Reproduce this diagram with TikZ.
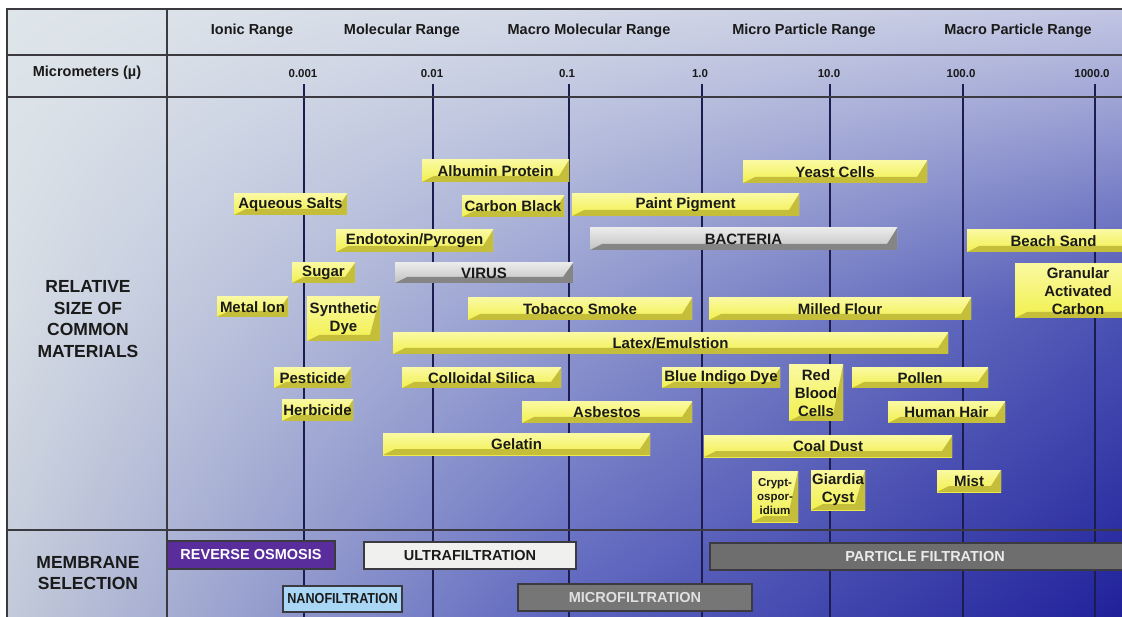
\documentclass[tikz,border=0pt]{standalone}
\usepackage{fontspec}
\setmainfont{Liberation Sans}
\usetikzlibrary{calc,shadings}
\definecolor{c00}{HTML}{DFE6EA}
\definecolor{cm0}{HTML}{D3D9E6}
\definecolor{c10}{HTML}{C2C6E3}
\definecolor{c0m}{HTML}{D6DDE4}
\definecolor{cmm}{HTML}{939BD0}
\definecolor{c1m}{HTML}{4A52B4}
\definecolor{c01}{HTML}{C3CAD9}
\definecolor{cm1}{HTML}{5D66BF}
\definecolor{c11}{HTML}{20219A}
\definecolor{ytop}{HTML}{FAF9A0}
\definecolor{yface}{HTML}{F2F04E}
\definecolor{ydark}{HTML}{C4BE3A}
\definecolor{gtop}{HTML}{EAEAEA}
\definecolor{gface}{HTML}{C2C2C2}
\definecolor{gdark}{HTML}{858585}
\definecolor{ink}{HTML}{1A1A1A}
\definecolor{gridc}{HTML}{1C1C50}
\definecolor{framec}{HTML}{3A3A40}
\definecolor{rofill}{HTML}{5A2D9C}
\definecolor{uffill}{HTML}{F0F0EE}
\definecolor{nffill}{HTML}{A9D6F5}
\definecolor{mffill}{HTML}{767676}
\definecolor{pffill}{HTML}{6E6E6E}
\newcommand{\mybar}[7]{%
  \pgfmathsetmacro\mbw{#5-#3}\pgfmathsetmacro\mbh{#6-#4}%
  \pgfmathsetmacro\mbx{(#3+#5)/2}\pgfmathsetmacro\mby{(#4+#6)/2}%
  \node[#1, minimum width=\mbw pt, minimum height=\mbh pt] (#2) at (\mbx,\mby) {#7};}
\tikzset{
  bevelbar/.style n args={3}{draw=none, inner sep=0pt, align=center, text=ink,
    font=\fontsize{15}{18}\selectfont\bfseries,
    path picture={
      \shade[top color=#1, bottom color=#2] (path picture bounding box.south west) rectangle (path picture bounding box.north east);
      \fill[#3] let \p1=(path picture bounding box.south west), \p2=(path picture bounding box.north east) in
        (\x1,\y1) -- (\x1+12pt,\y1+6pt) -- (\x2-10pt,\y1+6pt) -- (\x2,\y2) -- (\x2,\y1) -- cycle;
    }},
  ybar/.style={bevelbar={ytop}{yface}{ydark}},
  gbar/.style={bevelbar={gtop}{gface}{gdark}},
  memb/.style={draw=framec, line width=1.5pt, inner sep=0pt, font=\fontsize{14.5}{17}\selectfont\bfseries},
  frame/.style={draw=framec, line width=2pt},
  gridl/.style={draw=gridc, line width=1.5pt},
  head/.style={font=\fontsize{14.5}{17}\selectfont\bfseries, text=ink},
  tick/.style={font=\fontsize{11.5}{13}\selectfont\bfseries, text=ink},
  side/.style={font=\fontsize{17.5}{21.5}\selectfont\bfseries, text=ink, align=center}
}
\begin{document}
\begin{tikzpicture}[x=1pt,y=-1pt]
\useasboundingbox (0,0) rectangle (1122,617);
\fill[white] (0,0) rectangle (1122,617);
\clip (0,0) rectangle (1122,617);
% background gradient
\shade[upper left=c00, upper right=cm0, lower left=c0m, lower right=cmm] (7,9) rectangle (561,311);
\shade[upper left=cm0, upper right=c10, lower left=cmm, lower right=c1m] (560,9) rectangle (1122,311);
\shade[upper left=c0m, upper right=cmm, lower left=c01, lower right=cm1] (7,310) rectangle (561,617);
\shade[upper left=cmm, upper right=c1m, lower left=cm1, lower right=c11] (560,310) rectangle (1122,617);
% grid lines
\foreach \gx in {304,433,569,702,830,963,1095} \draw[gridl] (\gx,84) -- (\gx,617);
% frame
\draw[frame] (7,9) -- (1122,9);
\draw[frame] (7,8) -- (7,617);
\draw[frame] (167,8) -- (167,617);
\draw[frame] (7,55) -- (1122,55);
\draw[frame] (7,97) -- (1122,97);
\draw[frame] (7,530) -- (1122,530);
% header
\node[head] (ionic) at (252,31) {Ionic Range};
\node[head] (molec) at (402,31) {Molecular Range};
\node[head] (macromol) at (589,31) {Macro Molecular Range};
\node[head] (micropart) at (804,31) {Micro Particle Range};
\node[head] (macropart) at (1018,31) {Macro Particle Range};
\node[head] (microm) at (87,73) {Micrometers (µ)};
\node[tick] (t1) at (303,74) {0.001};
\node[tick] (t2) at (432,74) {0.01};
\node[tick] (t3) at (567,74) {0.1};
\node[tick] (t4) at (700,74) {1.0};
\node[tick] (t5) at (829,74) {10.0};
\node[tick] (t6) at (961,74) {100.0};
\node[tick] (t7) at (1092,74) {1000.0};
\node[side] (relsize) at (88,319) {RELATIVE\\SIZE OF\\COMMON\\MATERIALS};
\node[side] (membsel) at (88,573) {MEMBRANE\\SELECTION};
% yellow bars
\mybar{ybar}{albumin}{422}{160}{569}{182}{Albumin Protein}
\mybar{ybar}{aqueous}{234}{194}{347}{215}{Aqueous Salts}
\mybar{ybar}{carbon}{462}{196}{564}{217}{Carbon Black}
\mybar{ybar}{endotoxin}{336}{230}{493}{252}{Endotoxin/Pyrogen}
\mybar{ybar}{sugar}{292}{263}{355}{283}{Sugar}
\mybar{ybar}{metal}{217}{297}{288}{317}{Metal Ion}
\mybar{ybar}{synth}{307}{297}{380}{341}{Synthetic\\Dye}
\mybar{ybar}{tobacco}{468}{298}{692}{320}{Tobacco Smoke}
\mybar{ybar}{latex}{393}{333}{948}{354}{Latex/Emulstion}
\mybar{ybar}{yeast}{743}{161}{927}{183}{Yeast Cells}
\mybar{ybar}{paint}{572}{194}{799}{216}{Paint Pigment}
\mybar{ybar}{beach}{967}{230}{1140}{252}{Beach Sand}
\mybar{ybar}{granular}{1015}{264}{1141}{318}{Granular\\Activated\\Carbon}
\mybar{ybar}{milled}{709}{298}{971}{320}{Milled Flour}
\mybar{ybar}{pesticide}{274}{368}{351}{388}{Pesticide}
\mybar{ybar}{herbicide}{282}{400}{353}{421}{Herbicide}
\mybar{ybar}{colloidal}{402}{368}{561}{388}{Colloidal Silica}
\mybar{ybar}{asbestos}{522}{402}{692}{423}{Asbestos}
\mybar{ybar}{gelatin}{383}{434}{650}{455}{Gelatin}
\mybar{ybar}{indigo}{662}{368}{780}{388}{Blue Indigo Dye}
\mybar{ybar}{rbc}{789}{365}{843}{421}{Red\\Blood\\Cells}
\mybar{ybar}{pollen}{852}{368}{988}{388}{Pollen}
\mybar{ybar}{hair}{888}{402}{1005}{423}{Human Hair}
\mybar{ybar}{coal}{704}{436}{952}{457}{Coal Dust}
\mybar{ybar,font=\fontsize{11.5}{14}\selectfont\bfseries}{crypt}{752}{471}{798}{522}{Crypt-\\ospor-\\idium}
\mybar{ybar}{giardia}{811}{470}{865}{510}{Giardia\\Cyst}
\mybar{ybar}{mist}{937}{470}{1001}{492}{Mist}
% grey bars
\mybar{gbar}{virus}{395}{263}{573}{283}{VIRUS}
\mybar{gbar}{bacteria}{590}{228}{897}{250}{BACTERIA}
% membrane bars
\mybar{memb,fill=rofill,text=white}{ro}{167}{541}{335}{569}{REVERSE OSMOSIS}
\mybar{memb,fill=uffill,text=ink}{uf}{364}{542}{576}{569}{ULTRAFILTRATION}
\mybar{memb,fill=pffill,text=white!92!black}{pf}{710}{543}{1140}{570}{PARTICLE FILTRATION}
\mybar{memb,fill=nffill,text=ink}{nf}{283}{586}{402}{612}{\scalebox{0.87}[1]{NANOFILTRATION}}
\mybar{memb,fill=mffill,text=white!88!black}{mf}{518}{584}{752}{611}{MICROFILTRATION}
\end{tikzpicture}
\end{document}
